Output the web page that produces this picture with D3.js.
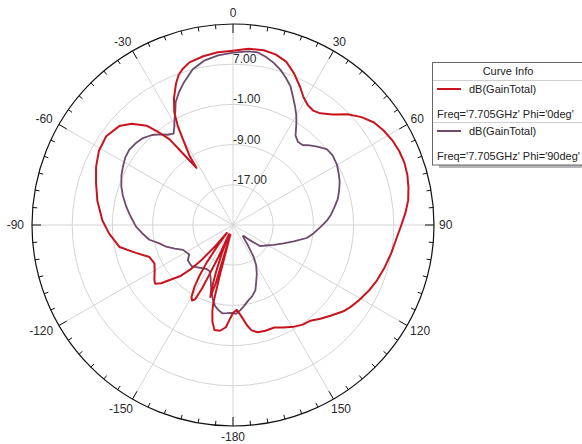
<!DOCTYPE html>
<html><head><meta charset="utf-8">
<script src="https://cdn.jsdelivr.net/npm/d3@7/dist/d3.min.js"></script>
<style>
html,body{margin:0;padding:0;background:#fff;}
svg{display:block;font-family:Arial,"Liberation Sans",sans-serif;}
</style></head>
<body>
<svg id="chart" width="582" height="444"></svg>
<script>
// ---- data ----
const angleTicks = [0, 30, 60, 90, 120, 150, -180, -150, -120, -90, -60, -30];
const ringValues = [-17, -9, -1, 7];
const ringLabels = ["-17.00", "-9.00", "-1.00", "7.00"];
const seriesNames = ["dB(GainTotal)", "dB(GainTotal)"];
const seriesInfo = ["Freq='7.705GHz' Phi='0deg'", "Freq='7.705GHz' Phi='90deg'"];

const thetaPhi0 = [-180,-178,-176,-173,-170,-168,-166.5,-165.8,-165.3,-164.5,-163.5,-162.5,-161.5,-160,-158.5,-157,-155.5,-154.5,-154,-153,-151.5,-150,-148,-146.5,-145,-143.5,-142,-140,-138,-136,-134,-131,-129,-127,-125,-120,-116,-111,-106,-101,-94,-88,-80,-73,-67,-61,-55,-49,-45,-41,-38.5,-36.5,-35,-32.6,-32.2,-30.3,-29,-27.5,-25,-22,-20,-18,-15,-10,-5,0,5,10,14,18,22,26,29,32,35,38,42,46,50,54,58,62,66,70,74,78,82,86,90,95,100,106,111,116,121,125,128,133,137,141,145,149,154,158,163,167,170,172,175,177.5,180];
const gainPhi0 = [-7.5,-6.2,-4.6,-3.8,-3.8,-5.3,-7.4,-9,-15,-23,-13,-10,-11.5,-15.5,-19,-23,-18,-14,-11,-8.4,-7.9,-8.5,-10.6,-13,-15.8,-20,-23,-19.5,-15.5,-12.5,-10.3,-8.3,-6.6,-5.6,-5.9,-7.0,-7.6,-7.2,-4.9,-2.0,-0.3,1.0,2.4,3.5,4.6,5.5,5.8,5.0,3.5,1.2,-1.6,-3.8,-7.7,-11.5,-8.9,-5.3,-2.2,0.3,2.8,5.3,6.7,7.6,8.5,9.1,9.5,9.7,10.2,10.3,10.0,9.2,7.5,5.5,4.0,3.1,2.8,3.2,4.6,6.7,8.4,9.7,10.4,10.9,11.2,11.3,11.1,10.7,10.2,9.4,8.5,7.6,7.0,6.3,5.7,5.0,4.2,3.5,2.9,1.5,0.5,-0.5,-0.8,-1.4,-2.3,-3.0,-3.0,-3.1,-3.7,-4.8,-6.9,-8.1,-7.5];

const thetaPhi90 = [-180,-176,-173,-170,-167.5,-165,-162.5,-160,-157,-153,-149,-145.5,-140,-135,-131,-128,-124,-120,-116.5,-112,-108,-104,-100,-95,-91,-85,-80,-75,-71,-66,-62,-58,-54,-50,-46,-42,-39,-36,-33,-31,-29,-27,-25,-22,-19,-14.5,-10,-5,0,5,8,11,14,17,20,22.5,25,27.5,30,32,35,38,41,44,47,51,55,60,64,68,72,76,80,84,87,91,96,100,105,110,116,122,128,132,136,139,143,147,150,154,158,161,165,168.5,172,175,178,180];
const gainPhi90 = [-7.5,-7.4,-7.3,-7.9,-8.5,-9.6,-10.8,-12.2,-13.6,-14.7,-14.8,-14.5,-14.0,-13.4,-13.5,-13.6,-14.5,-14.2,-13.9,-12.5,-11.0,-9.9,-8.1,-6.8,-5.7,-4.5,-3.4,-2.3,-1.5,-0.7,-0.2,0.3,0.5,0.3,-0.1,-0.9,-1.8,-2.8,-3.3,-2.3,-1.0,0.3,2.0,3.6,5.0,7.0,8.2,8.9,9.3,9.7,9.7,9.1,8.3,7.3,6.0,4.9,3.2,1.7,0.2,-1.2,-3.3,-4.0,-3.9,-3.0,-2.1,-1.0,-0.8,-1.1,-1.6,-2.1,-2.8,-3.5,-4.5,-5.4,-6.2,-7.5,-8.9,-10.1,-12.5,-14.3,-16.0,-17.3,-18.2,-20.5,-22.0,-22.0,-20.4,-17.5,-15.8,-14.2,-12.7,-11.3,-10.3,-9.7,-8.8,-8.0,-7.3,-7.5];

const colors = ["#c8141e", "#6e4a6c"];

// ---- layout ----
const svg = d3.select("#chart");
const cx = 233, cy = 225, R = 201;
const rScale = d3.scaleLinear().domain([-25, 15]).range([0, R]).clamp(true);
const toRad = d => d * Math.PI / 180;

svg.append("rect").attr("width", 582).attr("height", 444).attr("fill", "#fff");
const g = svg.append("g").attr("transform", `translate(${cx},${cy})`);

// grid rings
g.selectAll("circle.ring").data(ringValues).join("circle")
  .attr("class", "ring").attr("r", d => rScale(d))
  .attr("fill", "none").attr("stroke", "#d4d4d4").attr("stroke-width", 1);

// spokes
const spokeAngles = d3.range(0, 360, 30);
g.selectAll("line.spoke").data(spokeAngles).join("line")
  .attr("x1", 0).attr("y1", 0)
  .attr("x2", d => R * Math.sin(toRad(d)))
  .attr("y2", d => -R * Math.cos(toRad(d)))
  .attr("stroke", "#d4d4d4").attr("stroke-width", 1);

// outer circle
g.append("circle").attr("r", R).attr("fill", "none").attr("stroke", "#111").attr("stroke-width", 1.2);

// ticks
const tickAngles = d3.range(-180, 180, 5);
g.selectAll("line.tick").data(tickAngles).join("line")
  .attr("x1", d => R * Math.sin(toRad(d)))
  .attr("y1", d => -R * Math.cos(toRad(d)))
  .attr("x2", d => (R - (d % 30 === 0 ? 9 : 4.5)) * Math.sin(toRad(d)))
  .attr("y2", d => -(R - (d % 30 === 0 ? 9 : 4.5)) * Math.cos(toRad(d)))
  .attr("stroke", "#111").attr("stroke-width", 1);

// angle labels
angleTicks.forEach(a => {
  const t = g.append("text").text(a).attr("font-size", 12).attr("fill", "#2a2a2a")
    .attr("text-anchor", "middle");
  const w = t.node().getComputedTextLength();
  const s = Math.sin(toRad(a)), c = Math.cos(toRad(a));
  let x = (206 + 0) * s + (w / 2) * s;
  let y = -206 * c - 6 * c;
  if (a < 0 && a !== -180) x -= 3;
  t.attr("x", x).attr("y", y + 4.3);
});

// ring labels
g.selectAll("text.rl").data(ringValues).join("text")
  .attr("x", 0).attr("y", d => -rScale(d) - 1)
  .attr("font-size", 12).attr("fill", "#2a2a2a")
  .text((d, i) => ringLabels[i]);

// curves
const line = d3.lineRadial()
  .angle(d => toRad(d[0]))
  .radius(d => rScale(d[1]))
  .curve(d3.curveLinear);

const series = [
  d3.zip(thetaPhi0, gainPhi0),
  d3.zip(thetaPhi90, gainPhi90)
];
g.append("path").datum(series[1]).attr("d", line)
  .attr("fill", "none").attr("stroke", colors[1]).attr("stroke-width", 1.8).attr("stroke-linejoin", "round");
g.append("path").datum(series[0]).attr("d", line)
  .attr("fill", "none").attr("stroke", colors[0]).attr("stroke-width", 2).attr("stroke-linejoin", "round");

// legend
const lg = svg.append("g");
lg.append("rect").attr("x", 439).attr("y", 165).attr("width", 150).attr("height", 3).attr("fill", "#b5b5b5");
lg.append("rect").attr("x", 432.5).attr("y", 62.5).attr("width", 160).attr("height", 102.5)
  .attr("fill", "#fff").attr("stroke", "#666").attr("stroke-width", 1);
lg.append("text").attr("x", 508).attr("y", 74.5).attr("text-anchor", "middle")
  .attr("font-size", 11).attr("fill", "#222").text("Curve Info");
lg.append("line").attr("x1", 433).attr("x2", 592).attr("y1", 80.5).attr("y2", 80.5).attr("stroke", "#cfcfcf");
lg.append("line").attr("x1", 433).attr("x2", 592).attr("y1", 122.5).attr("y2", 122.5).attr("stroke", "#cfcfcf");
const entryY = [89, 131];
seriesNames.forEach((n, i) => {
  const y0 = entryY[i];
  lg.append("line").attr("x1", 437).attr("x2", 461).attr("y1", y0).attr("y2", y0)
    .attr("stroke", colors[i]).attr("stroke-width", 2);
  lg.append("text").attr("x", 469).attr("y", y0 + 4).attr("font-size", 11).attr("fill", "#222").text(n);
  lg.append("text").attr("x", 437).attr("y", y0 + 28.5).attr("font-size", 11).attr("fill", "#222").text(seriesInfo[i]);
});
</script>
</body></html>
